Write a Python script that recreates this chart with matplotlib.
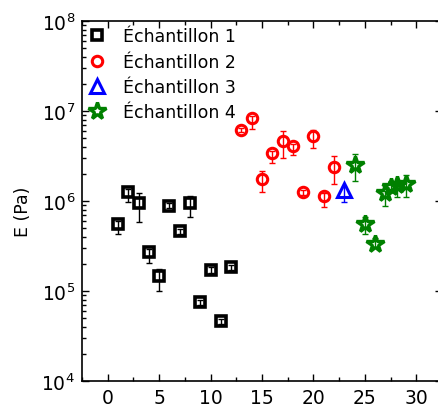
import matplotlib.pyplot as plt
from matplotlib.lines import Line2D
from matplotlib.ticker import MultipleLocator, LogLocator, NullFormatter
import numpy as np

plt.rcParams['font.family'] = 'DejaVu Sans'

# Échantillon 1
x1 = [1, 2, 3, 4, 5, 6, 7, 8, 9, 10, 11, 12]
y1 = [5.55e5, 1.27e6, 9.4e5, 2.7e5, 1.46e5, 8.9e5, 4.6e5, 9.4e5, 7.5e4, 1.71e5, 4.6e4, 1.83e5]
lo1 = [4.3e5, 9.7e5, 5.9e5, 2.03e5, 1.0e5, 8.3e5, 4.3e5, 6.7e5, 7.0e4, 1.6e5, 4.3e4, 1.7e5]
hi1 = [6.0e5, 1.35e6, 1.23e6, 2.9e5, 1.76e5, 9.5e5, 4.9e5, 1.13e6, 8.0e4, 1.83e5, 4.9e4, 1.96e5]

# Échantillon 2
x2 = [13, 14, 15, 16, 17, 18, 19, 20, 21, 22]
y2 = [6.15e6, 8.3e6, 1.75e6, 3.39e6, 4.68e6, 4.06e6, 1.25e6, 5.24e6, 1.15e6, 2.37e6]
lo2 = [5.8e6, 6.3e6, 1.27e6, 2.64e6, 3.0e6, 3.24e6, 1.18e6, 3.85e6, 8.6e5, 1.55e6]
hi2 = [6.5e6, 8.8e6, 2.17e6, 3.6e6, 6.04e6, 4.3e6, 1.32e6, 6.2e6, 1.22e6, 3.14e6]

# Échantillon 3
x3 = [23]
y3 = [1.34e6]
lo3 = [9.7e5]
hi3 = [1.42e6]

# Échantillon 4
x4 = [24, 25, 26, 27, 27.5, 28.1, 29]
y4 = [2.51e6, 5.55e5, 3.33e5, 1.22e6, 1.43e6, 1.51e6, 1.55e6]
lo4 = [1.68e6, 4.3e5, 3.1e5, 8.9e5, 1.3e6, 1.1e6, 1.1e6]
hi4 = [3.33e6, 6.6e5, 3.9e5, 1.3e6, 1.55e6, 1.6e6, 1.95e6]

labels = ['Échantillon 1', 'Échantillon 2', 'Échantillon 3', 'Échantillon 4']

fig = plt.figure(figsize=(4.39, 4.10), dpi=100)
ax = fig.add_axes([82/439, 28/410, 360/439, 360/410])

styles = [('s', 'black', 7, 2.6), ('o', 'red', 7.5, 2.2),
          ('^', 'blue', 10, 2.2), ('*', 'green', 13, 2.4)]
data = [(x1, y1, lo1, hi1), (x2, y2, lo2, hi2), (x3, y3, lo3, hi3), (x4, y4, lo4, hi4)]

handles = []
for (x, y, lo, hi), (m, c, ms, mew), lab in zip(data, styles, labels):
    y = np.array(y)
    yerr = [y - np.array(lo), np.array(hi) - y]
    ax.errorbar(x, y, yerr=yerr, fmt='none', ecolor=c, elinewidth=1,
                capsize=2.5, capthick=1)
    ax.plot(x, y, ls='none', marker=m, ms=ms, mec=c, mfc='none', mew=mew)
    handles.append(Line2D([], [], ls='none', marker=m, ms=ms, mec=c,
                          mfc='none', mew=mew, label=lab))

ax.set_yscale('log')
ax.set_ylim(1e4, 1e8)
ax.set_xlim(-2.5, 32.5)
ax.set_xticks([0, 5, 10, 15, 20, 25, 30])
ax.xaxis.set_minor_locator(MultipleLocator(2.5))
ax.yaxis.set_major_locator(LogLocator(base=10))
ax.yaxis.set_minor_locator(LogLocator(base=10, subs=np.arange(2, 10)))
ax.yaxis.set_minor_formatter(NullFormatter())

ax.tick_params(which='both', direction='in', top=True, right=True, width=1)
ax.tick_params(which='major', length=5, labelsize=13.5, pad=5)
ax.tick_params(which='minor', length=3)
for s in ax.spines.values():
    s.set_linewidth(1.2)

ax.set_ylabel('E (Pa)', fontsize=12.5)
ax.yaxis.set_label_coords(-0.14, 0.473)

ax.legend(handles=handles, loc='upper left', bbox_to_anchor=(0.0176, 0.982),
          frameon=False, fontsize=12.5, borderpad=0, borderaxespad=0,
          handlelength=1.0, handletextpad=1.0, labelspacing=0.42)

fig.savefig('out.png', dpi=100)
